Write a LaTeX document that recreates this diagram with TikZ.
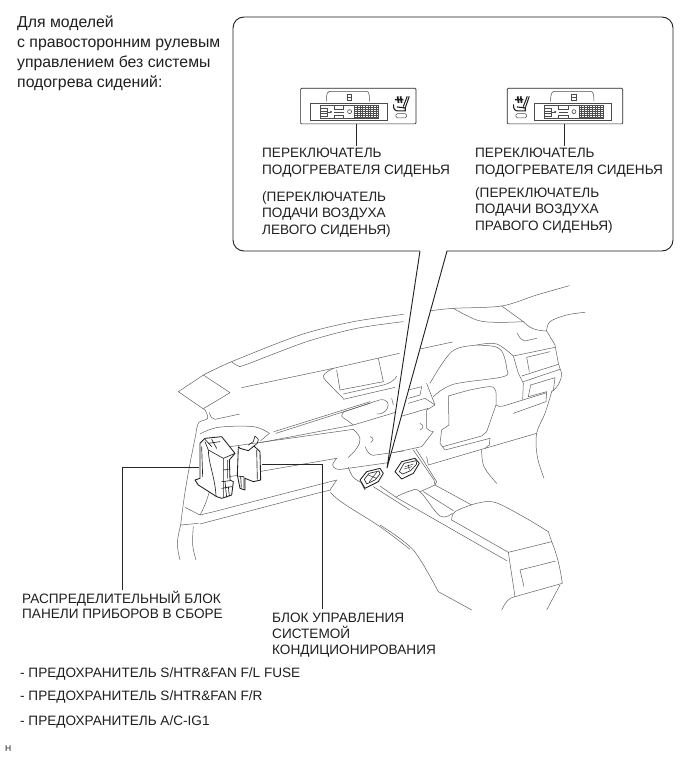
\documentclass[tikz,border=0pt]{standalone}
\usepackage{fontspec}
\setmainfont{Liberation Sans}
\tikzset{
  body/.style={draw=black!62,line width=.5pt,line cap=round,line join=round},
  part/.style={draw=black!88,line width=.85pt,line join=round,line cap=round},
  detail/.style={draw=black!85,line width=.65pt,line join=round,line cap=round},
  fine/.style={draw=black!70,line width=.35pt},
  leader/.style={draw=black!85,line width=.8pt},
  panelbox/.style={draw=black!85,line width=.7pt,rounded corners=1pt,minimum width=115.4pt,minimum height=35.6pt,inner sep=0pt},
  bubble/.style={draw=black!88,line width=.9pt,fill=white,rounded corners=11pt,minimum width=440pt,minimum height=234pt,inner sep=0pt},
  caption/.style={anchor=north west,align=left,inner sep=0pt,text=black!88,font=\fontsize{13.6}{16.5}\selectfont},
  heading/.style={anchor=north west,align=left,inner sep=0pt,text=black!88,font=\fontsize{15.8}{20}\selectfont},
}
% Front of the switch panel: recess, connector with pin grid, and latch
\newcommand{\panelcore}{
  \draw[fine,line width=.5pt] (0,0) rectangle (230,52);
  \draw[fine,line width=.6pt,fill=white] (30,8) rectangle (205,46);
  \foreach \gx in {133,141,...,205} \draw[fine] (\gx,8) -- (\gx,46);
  \foreach \gy in {14,20,...,44} \draw[fine] (133,\gy) -- (205,\gy);
  \draw[fine] (30,16) -- (50,16) -- (50,24) -- (30,24) (30,32) -- (50,32) -- (50,40) -- (30,40);
  \draw[fine] (72,8) -- (72,18) -- (100,18) -- (100,8) (72,46) -- (72,36) -- (100,36) -- (100,46) (50,27) -- (62,27) (72,27) -- (100,27);
  \draw[fine,line width=.6pt] (118,26) circle (6);
  \draw[fine,fill=black!70] (62,27) circle (2.5);
  \draw[fine,line width=.5pt] (48,-5) .. controls (48,-30) and (52,-35) .. (62,-35) -- (168,-35) .. controls (176,-35) and (178,-25) .. (178,-5);
  \draw[fine,line width=.5pt] (110,-25) rectangle (124,-8);
  \draw[fine] (110,-16) -- (124,-16);
}
% Seat heater symbol and its indicator lamp
\newcommand{\seaticon}{
  \draw[black!88,line width=1pt,line join=round] (49,2) -- (37,37) (43,2) -- (31,33);
  \draw[black!88,line width=1.1pt,line join=round] (2,26) .. controls (0,40) and (6,46) .. (16,46) -- (37,46) -- (37,37) -- (12,34);
  \draw[black!88,line width=1.7pt] (14,2) -- (17,22) (23,2) -- (26,22) (6,12) -- (31,12);
  \draw[fine,line width=.5pt,rounded corners=1.5pt] (9,54) rectangle (41,67);
}
\begin{document}
\begin{tikzpicture}[x=1pt,y=-1pt]
\useasboundingbox (0,0) rectangle (690,757);
\fill[white] (0,0) rectangle (690,757);

% Instrument panel, left and middle part
\begin{scope}[shift={(140,270)},scale=1/3]
  \draw[body] plot[smooth,tension=.5] coordinates {(190,315) (275,275) (480,195) (640,155) (790,133)};
  \draw[body] plot[smooth,tension=.5] coordinates {(275,275) (295,288) (320,283) (500,215) (650,175) (790,155)};
  \draw[body] (190,315) -- (115,365) -- (195,420) (190,315) -- (270,368) -- (192,415);
  \draw[body] plot[smooth,tension=.6] coordinates {(195,420) (203,445) (176,458) (168,490)};
  \draw[body] (168,490) .. controls (150,580) and (135,650) .. (122,765);
  \draw[body] plot[smooth,tension=.6] coordinates {(122,765) (112,820) (120,870)};
  \draw[body] plot[smooth,tension=.6] coordinates {(160,770) (158,825) (168,870)};
  \draw[body] (122,765) -- (175,760);
  \draw[body] (305,353) -- (580,295) -- (778,250);
  \draw[body] (590,300) -- (600,360) -- (730,335) -- (715,265);
  \draw[body] plot[smooth,tension=.6] coordinates {(580,295) (550,318) (575,350) (610,385)};
  \draw[body] (610,372) -- (730,345) .. controls (750,340) and (765,330) .. (770,318);
  \draw[body] (610,388) -- (765,352);
  \draw[body] (208,428) .. controls (212,440) and (215,448) .. (225,448) -- (300,432);
  \draw[body] plot[smooth,tension=.6] coordinates {(180,492) (235,472) (340,470) (388,490)};
  \draw[body] (388,490) -- (362,512);
  \draw[body] (402,485) -- (690,395) (408,490) -- (690,400);
  \draw[body] (612,425) -- (718,390) .. controls (740,385) and (750,400) .. (742,415) .. controls (735,428) and (725,432) .. (712,432);
  \draw[body] plot[smooth,tension=.7] coordinates {(612,425) (605,438) (620,450) (640,465)};
  \draw[body] (360,518) -- (640,465) -- (790,420);
  \draw[body] (270,530) -- (640,478);
  \draw[body] plot[smooth,tension=.7] coordinates {(640,478) (660,505) (650,535) (625,562)};
  \draw[body] (675,530) .. controls (682,545) and (688,555) .. (700,556) -- (790,543);
  \draw[body] (690,500) .. controls (702,503) and (702,512) .. (692,517);
  \draw[body] (240,625) -- (590,565);
  \draw[body] plot[smooth,tension=.7] coordinates {(590,565) (578,585) (590,597) (610,597)};
  \draw[body] (610,597) -- (745,578);
  \draw[body] (222,725) -- (590,630);
  \draw[body] (180,762) -- (530,670) -- (572,660);
  \draw[body] (135,712) -- (180,735) -- (222,725);
  \draw[body] (220,620) .. controls (210,660) and (200,700) .. (180,735);
  \draw[body] (590,630) -- (570,660);
  \draw[body] plot[smooth,tension=.6] coordinates {(572,668) (610,700) (720,770) (810,838)};
  \draw[body] plot[smooth,tension=.6] coordinates {(625,592) (640,622) (668,640)};
  \draw[body] (700,650) -- (810,720);
  \draw[body] (755,385) -- (760,405);
\end{scope}

% Instrument panel, right part with meter hood, and the console
\begin{scope}[shift={(380,270)},scale=1/3]
  \draw[body] (120,237) -- (218,216);
  \draw[body] plot[smooth,tension=.5] coordinates {(145,123) (220,115) (365,108) (470,75) (568,47)};
  \draw[body] plot[smooth,tension=.6] coordinates {(220,115) (290,150) (350,157) (430,155)};
  \draw[body] (365,108) -- (430,155) .. controls (445,170) and (460,182) .. (500,183);
  \draw[body] plot[smooth,tension=.6] coordinates {(500,183) (510,155) (560,135) (615,127)};
  \draw[body] (500,183) -- (525,225) -- (535,280) -- (545,310) .. controls (545,330) and (535,350) .. (515,365);
  \draw[body] (412,190) .. controls (420,205) and (425,212) .. (435,213) -- (470,205);
  \draw[body] plot[smooth,tension=.55] coordinates {(150,340) (215,245) (290,225) (350,222) (400,258)};
  \draw[body] (400,258) -- (415,310) -- (430,340) -- (428,388);
  \draw[body] plot[smooth,tension=.55] coordinates {(160,380) (220,343) (370,320) (380,295) (368,248) (345,230) (290,225)};
  \draw[body] (400,258) -- (525,232) (440,262) -- (510,245) (440,262) -- (448,305);
  \draw[body] (425,318) -- (535,283) (430,335) -- (540,298);
  \draw[body] (445,380) -- (452,345) -- (525,323) -- (520,362) (445,380) -- (500,365) -- (498,395) -- (400,430);
  \draw[body] plot[smooth,tension=.5] coordinates {(205,378) (270,360) (330,350) (347,362) (348,405)};
  \draw[body] (348,405) -- (320,485) -- (305,498) -- (188,530);
  \draw[body] (205,378) -- (207,465) -- (185,480) -- (180,520) -- (195,540) -- (330,505) -- (328,525) -- (315,535);
  \draw[body] (348,405) .. controls (355,410) and (360,410) .. (370,408) -- (500,368);
  \draw[body] plot[smooth,tension=.6] coordinates {(515,365) (495,430) (470,490) (472,560) (492,625)};
  \draw[body] (145,585) -- (315,535) -- (470,490);
  \draw[body] (140,560) -- (145,585);
  \draw[body] plot[smooth,tension=.6] coordinates {(305,540) (312,590) (350,640)};
  \draw[body] (100,540) -- (162,630) -- (165,645) -- (120,665) (108,537) -- (170,635) -- (165,645);
  \draw[body] (165,645) -- (275,705) (130,665) -- (220,722);
  \draw[body] plot[smooth,tension=.5] coordinates {(215,750) (225,725) (290,700) (345,697) (430,740) (505,785)};
  \draw[body] (505,785) -- (515,815) -- (385,847) -- (215,750);
  \draw[body] (385,847) -- (405,980);
  \draw[body] (515,815) .. controls (530,850) and (540,890) .. (547,940) -- (405,980);
  \draw[body] (432,950) -- (420,900) -- (527,873);
  \draw[body] (0,648) -- (50,683) -- (380,872);
  \draw[body] plot[smooth,tension=.6] coordinates {(50,680) (90,663) (120,665) (180,738) (217,730)};
  \draw[body] plot[smooth,tension=.5] coordinates {(0,765) (100,840) (175,965)};
  \draw[body] (175,965) -- (275,1020);
  \draw[body] (405,980) .. controls (385,982) and (375,1000) .. (365,1020);
  \draw[body] (540,945) -- (500,1020);
  \draw[body] (140,340) -- (165,405) -- (140,420) -- (140,475) .. controls (145,482) and (155,485) .. (160,485) -- (125,530) -- (40,548);
  \draw[body] (85,360) -- (125,350) -- (120,375) -- (85,385);
  \draw[body] (85,400) -- (135,385) -- (165,405);
  \draw[body] (60,440) -- (145,415);
  \draw[body] (120,460) .. controls (132,465) and (132,475) .. (120,480);
\end{scope}

% Switches in the console
\begin{scope}[shift={(380,270)},scale=1/3]
  \draw[part,fill=white] (45,605) -- (65,575) -- (105,565) -- (118,580) -- (100,610) -- (65,627) -- cycle;
  \draw[detail] (58,605) -- (72,580) -- (108,572) -- (110,582) -- (92,602) -- (68,612) -- cycle;
  \draw[detail,line width=.45pt] (75,590) -- (100,582) (72,597) -- (95,590) (85,585) -- (88,600);
  \draw[part,fill=white] (-60,630) -- (-40,605) -- (0,595) -- (10,610) -- (-5,635) -- (-45,655) -- cycle;
  \draw[detail] (-47,628) -- (-33,610) -- (-3,603) -- (0,612) -- (-15,630) -- (-40,642) -- cycle;
  \draw[detail,line width=.45pt] (-35,615) -- (-10,625) (-10,607) -- (-32,635);
  \draw[detail] (-55,640) -- (-45,660);
\end{scope}

% Junction block and air conditioning amplifier
\begin{scope}[shift={(180,410)},scale=1/3]
  \draw[part,fill=white] (60,100) -- (75,85) -- (125,80) -- (165,130) -- (148,150) -- (150,210) -- (160,215) -- (155,255) -- (125,265) -- (110,260) -- (55,225) -- (45,210) -- (60,205) -- cycle;
  \draw[detail] (75,95) -- (85,120) -- (130,145) -- (130,262);
  \draw[detail] (85,120) .. controls (85,160) and (105,200) .. (108,258);
  \draw[detail] (130,145) -- (165,130);
  \draw[detail] (125,215) -- (150,212) (125,235) -- (155,230) (135,215) -- (140,262) (145,230) -- (148,258);
  \draw[detail] (65,110) -- (68,200);
  \draw[detail] (75,88) -- (95,110) (95,88) -- (110,115) (85,100) -- (120,95);
  \draw[detail] (142,150) -- (142,205) (130,180) -- (145,178);
  \draw[part,fill=white] (175,110) -- (172,195) -- (180,235) -- (195,240) -- (195,205) -- (220,215) -- (242,210) -- (240,125) -- (222,108) -- (205,122) -- (180,115) -- cycle;
  \draw[detail] (230,120) -- (232,208) (172,198) -- (192,200) -- (192,235) (182,200) -- (184,232);
  \draw[detail] (205,105) -- (220,95) -- (225,78) -- (235,88) -- (232,100) -- (222,108);
\end{scope}

% Callout with its pointer towards the switches
\node[bubble] (callout) at (453,134) {};
\coordinate (calloutTip) at (387,468);
\coordinate (tailL) at (420,251);
\coordinate (tailR) at (447,251);
\fill[white] ([yshift=1.2pt]tailL) -- ([yshift=1.2pt]tailR) -- (calloutTip) -- cycle;
\draw[draw=black!88,line width=.9pt,line join=miter] (tailL) -- (calloutTip) -- (tailR);

% Switch panels
\node[panelbox] (lpanel) at (358.3,106.1) {};
\node[panelbox] (rpanel) at (565,106.1) {};
\begin{scope}[shift={(lpanel.north west)},scale=1/3]
  \begin{scope}[shift={(30,45)}]\panelcore\end{scope}
  \begin{scope}[shift={(278,23)}]\seaticon\end{scope}
\end{scope}
\begin{scope}[shift={(rpanel.north west)},scale=1/3]
  \begin{scope}[shift={(83,45)}]\panelcore\end{scope}
  \begin{scope}[shift={(18,23)}]\seaticon\end{scope}
\end{scope}

% Labels
\node[heading] (note) at (17,16) {Для моделей\\с правосторонним рулевым\\управлением без системы\\подогрева сидений:};
\node[caption] (lcap) at (262,148) {ПЕРЕКЛЮЧАТЕЛЬ\\ПОДОГРЕВАТЕЛЯ СИДЕНЬЯ};
\node[caption] (lsub) at (262,191) {(ПЕРЕКЛЮЧАТЕЛЬ\\ПОДАЧИ ВОЗДУХА\\ЛЕВОГО СИДЕНЬЯ)};
\node[caption] (rcap) at (475,148) {ПЕРЕКЛЮЧАТЕЛЬ\\ПОДОГРЕВАТЕЛЯ СИДЕНЬЯ};
\node[caption] (rsub) at (475,187) {(ПЕРЕКЛЮЧАТЕЛЬ\\ПОДАЧИ ВОЗДУХА\\ПРАВОГО СИДЕНЬЯ)};
\node[caption,font=\fontsize{13.6}{15}\selectfont] (dist) at (22,591) {РАСПРЕДЕЛИТЕЛЬНЫЙ БЛОК\\ПАНЕЛИ ПРИБОРОВ В СБОРЕ};
\node[caption,font=\fontsize{13.6}{16}\selectfont] (amp) at (272,613) {БЛОК УПРАВЛЕНИЯ\\СИСТЕМОЙ\\КОНДИЦИОНИРОВАНИЯ};
\node[caption] (fuseA) at (20,667) {- ПРЕДОХРАНИТЕЛЬ S/HTR\&FAN F/L FUSE};
\node[caption] (fuseB) at (20,690) {- ПРЕДОХРАНИТЕЛЬ S/HTR\&FAN F/R};
\node[caption] (fuseC) at (20,715) {- ПРЕДОХРАНИТЕЛЬ A/C-IG1};
\node[anchor=north west,inner sep=0pt,font=\fontsize{8.5}{9}\selectfont,text=black!88] (mark) at (5,745) {H};

% Leaders
\coordinate (distBlock) at (199,467);
\coordinate (ampBlock) at (262,464);
\draw[leader] ([xshift=-2.3pt]lpanel.south) -- ([xshift=-2.3pt,yshift=2pt]lpanel.south |- lcap.north);
\draw[leader] ([xshift=-.7pt]rpanel.south) -- ([xshift=-.7pt,yshift=2pt]rpanel.south |- rcap.north);
\draw[leader] (distBlock) -| ([xshift=100pt,yshift=1pt]dist.north west);
\draw[leader] (ampBlock) -| ([xshift=50pt,yshift=4pt]amp.north west);
\end{tikzpicture}
\end{document}
